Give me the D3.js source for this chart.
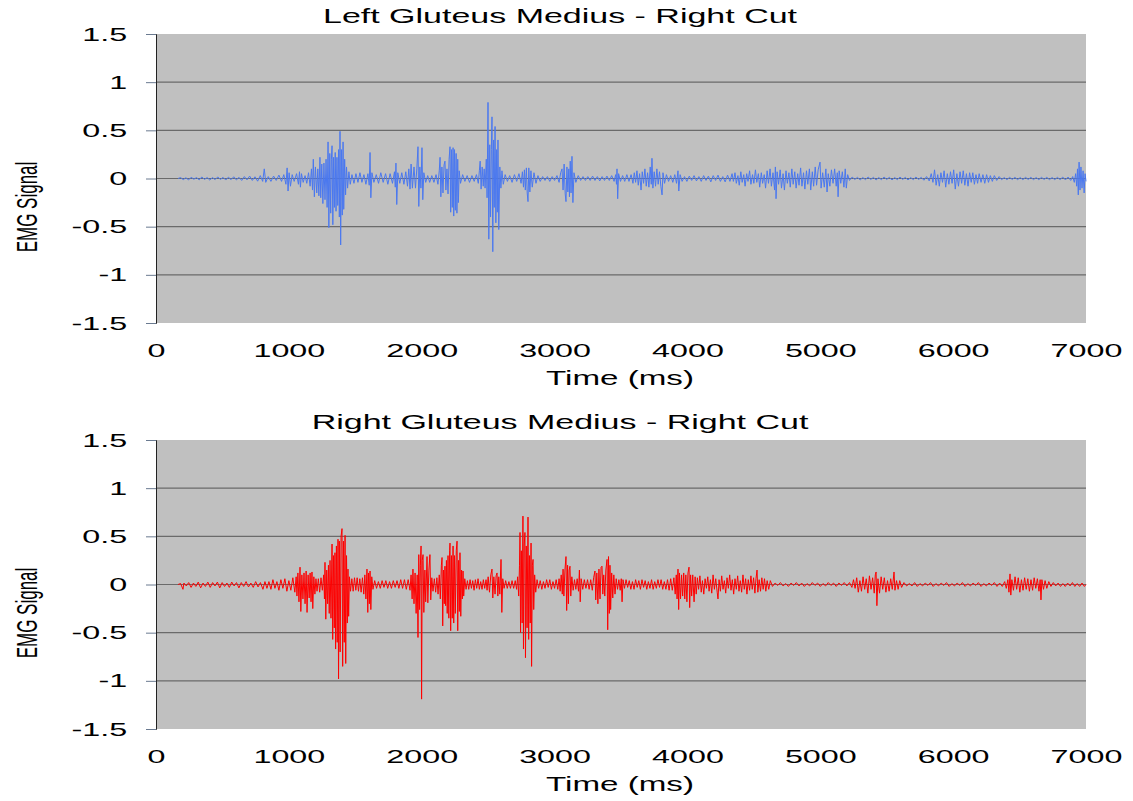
<!DOCTYPE html>
<html>
<head>
<meta charset="utf-8">
<script src="https://cdn.jsdelivr.net/npm/d3@7"></script>
<style>
body { margin: 0; background: #fff; }
text { font-family: "Liberation Sans", Arial, sans-serif; fill: #000; }
</style>
</head>
<body>
<svg id="chart" width="1133" height="801"></svg>
<script>
var titles = ["Left Gluteus Medius - Right Cut", "Right Gluteus Medius - Right Cut"];
var xLabel = "Time (ms)";
var yLabel = "EMG Signal";
var xTicks = [0, 1000, 2000, 3000, 4000, 5000, 6000, 7000];
var yTicks = [-1.5, -1, -0.5, 0, 0.5, 1, 1.5];
var colors = ["#4a78f0", "#ff0000"];

// [time ms, signal]
var leftGM = [
[166,0],[185,0.01],[205,-0.012],[225,0.008],[245,-0.015],[265,0.013],[285,-0.008],[305,0.01],[325,-0.014],[345,0.016],[365,-0.01],[385,0.01],[405,-0.016],[425,0.01],[445,-0.012],[465,0.016],[485,-0.01],[505,0.012],[525,-0.016],[545,0.014],[565,-0.012],[585,0.018],[605,-0.015],[625,0.012],[645,-0.02],[665,0.02],[685,-0.014],[705,0.025],[725,-0.02],[745,0.018],[765,-0.028],[785,0.03],[803,-0.03],[815,0.1],[826,-0.04],[845,0.02],[865,-0.03],[885,0.025],[905,-0.02],[925,0.035],[945,-0.03],[962,0.04],[978,-0.06],[987,0.11],[994,-0.13],[1002,0.06],[1012,-0.08],[1025,0.04],[1040,-0.03],[1058,0.05],[1072,-0.06],[1080,0.07],[1087,-0.09],[1095,0.05],[1108,-0.04],[1122,0.03],[1135,-0.05],[1148,0.06],[1160,-0.08],[1170,0.1],[1178,-0.12],[1184,0.2],[1192,-0.19],[1200,0.12],[1210,-0.15],[1218,0.1],[1226,-0.18],[1234,0.22],[1240,-0.2],[1248,0.15],[1256,-0.26],[1264,0.16],[1272,-0.22],[1280,0.2],[1288,-0.3],[1295,0.38],[1301,-0.51],[1308,0.26],[1315,-0.36],[1320,0.2],[1325,0.34],[1331,-0.48],[1337,0.22],[1343,-0.3],[1349,0.27],[1355,-0.34],[1362,0.22],[1368,-0.28],[1374,0.3],[1380,-0.4],[1385,0.49],[1390,-0.69],[1396,0.3],[1402,-0.38],[1408,0.38],[1413,-0.32],[1420,0.2],[1427,-0.17],[1434,0.12],[1442,-0.1],[1452,0.07],[1462,-0.06],[1475,0.04],[1490,-0.05],[1505,0.05],[1520,-0.04],[1535,0.06],[1550,-0.04],[1565,0.04],[1580,-0.06],[1595,0.05],[1605,-0.07],[1611,0.27],[1617,-0.2],[1625,0.06],[1640,-0.04],[1658,0.04],[1675,-0.05],[1692,0.06],[1710,-0.04],[1728,0.05],[1745,-0.06],[1762,0.05],[1780,-0.05],[1795,0.07],[1801,-0.09],[1806,0.16],[1812,-0.27],[1820,0.06],[1835,-0.05],[1850,0.06],[1866,-0.06],[1880,0.07],[1893,-0.08],[1903,0.1],[1912,-0.11],[1920,0.15],[1930,-0.1],[1942,0.12],[1953,-0.1],[1963,0.1],[1972,0.33],[1978,-0.29],[1986,0.12],[1994,-0.1],[2002,0.32],[2008,-0.22],[2016,0.06],[2030,-0.04],[2045,0.03],[2060,-0.04],[2076,0.03],[2092,-0.04],[2108,0.04],[2122,-0.06],[2132,0.08],[2138,0.22],[2144,-0.19],[2152,0.12],[2160,-0.15],[2168,0.14],[2175,0.18],[2182,-0.12],[2190,0.1],[2198,-0.16],[2206,0.2],[2213,0.33],[2218,-0.35],[2224,0.3],[2230,-0.3],[2236,0.32],[2241,-0.39],[2247,0.3],[2253,-0.33],[2259,0.26],[2265,-0.36],[2271,0.2],[2276,-0.25],[2282,0.08],[2292,-0.05],[2308,0.04],[2325,-0.03],[2342,0.03],[2360,-0.04],[2378,0.03],[2395,-0.03],[2412,0.04],[2426,-0.05],[2434,0.08],[2440,0.18],[2447,-0.11],[2455,0.12],[2463,-0.08],[2470,0.1],[2477,-0.1],[2486,0.2],[2492,-0.2],[2499,0.79],[2505,-0.63],[2512,0.35],[2518,-0.4],[2524,0.3],[2529,0.64],[2535,-0.76],[2541,0.4],[2546,-0.3],[2552,0.54],[2558,-0.46],[2564,0.3],[2569,-0.35],[2574,0.4],[2580,-0.53],[2588,0.12],[2596,-0.1],[2604,0.08],[2614,-0.06],[2628,0.04],[2645,-0.03],[2662,0.03],[2680,-0.04],[2698,0.04],[2715,-0.03],[2732,0.05],[2748,-0.05],[2758,0.07],[2766,-0.09],[2773,0.09],[2780,-0.12],[2788,0.11],[2794,-0.15],[2800,-0.24],[2806,0.11],[2814,-0.14],[2822,0.08],[2832,-0.09],[2845,0.06],[2860,-0.05],[2875,0.03],[2892,-0.03],[2910,0.02],[2928,-0.02],[2946,0.02],[2964,-0.03],[2982,0.02],[3000,-0.02],[3018,0.03],[3034,-0.04],[3046,0.06],[3056,0.1],[3064,-0.12],[3072,0.15],[3080,-0.16],[3086,-0.24],[3093,0.12],[3100,-0.14],[3107,0.1],[3112,-0.19],[3118,0.18],[3124,-0.15],[3131,0.23],[3138,-0.25],[3146,0.06],[3160,-0.04],[3178,0.03],[3196,-0.02],[3214,0.02],[3232,-0.02],[3250,0.02],[3268,-0.02],[3286,0.025],[3304,-0.02],[3322,0.02],[3340,-0.025],[3358,0.02],[3376,-0.02],[3394,0.025],[3412,-0.02],[3430,0.03],[3448,-0.03],[3460,0.04],[3466,-0.06],[3470,0.1],[3475,-0.21],[3482,0.05],[3496,-0.03],[3512,0.03],[3528,-0.03],[3544,0.04],[3560,-0.03],[3576,0.04],[3590,-0.05],[3600,0.06],[3610,-0.04],[3620,0.08],[3630,-0.07],[3640,0.05],[3651,-0.12],[3660,0.07],[3670,-0.05],[3680,0.1],[3690,-0.08],[3700,0.06],[3710,-0.09],[3720,0.12],[3728,-0.06],[3733,0.21],[3740,-0.1],[3750,0.07],[3760,-0.08],[3770,0.1],[3780,-0.06],[3790,0.07],[3800,-0.08],[3809,-0.17],[3816,0.06],[3828,-0.05],[3842,0.04],[3858,-0.03],[3874,0.03],[3890,-0.04],[3905,0.04],[3918,-0.05],[3929,0.08],[3935,-0.13],[3945,0.04],[3960,-0.03],[3978,0.02],[3996,-0.03],[4014,0.025],[4032,-0.02],[4050,0.03],[4068,-0.025],[4086,0.02],[4104,-0.03],[4122,0.03],[4140,-0.02],[4158,0.025],[4176,-0.035],[4194,0.03],[4212,-0.02],[4230,0.035],[4248,-0.03],[4266,0.02],[4284,-0.035],[4302,0.035],[4320,-0.03],[4336,0.05],[4346,-0.03],[4358,0.06],[4368,-0.05],[4380,0.03],[4390,-0.07],[4402,0.07],[4412,-0.04],[4424,0.04],[4434,-0.08],[4446,0.05],[4456,-0.03],[4468,0.08],[4478,-0.06],[4490,0.04],[4500,-0.05],[4512,0.09],[4522,-0.04],[4534,0.05],[4544,-0.09],[4556,0.06],[4566,-0.05],[4578,0.04],[4588,-0.1],[4600,0.08],[4610,-0.05],[4622,0.1],[4632,-0.08],[4644,0.06],[4656,-0.12],[4662,0.12],[4667,-0.21],[4675,0.07],[4686,-0.06],[4698,0.09],[4708,-0.1],[4720,0.05],[4730,-0.12],[4742,0.08],[4752,-0.05],[4764,0.06],[4774,-0.09],[4786,0.1],[4796,-0.06],[4808,0.07],[4818,-0.1],[4830,0.05],[4840,-0.07],[4852,0.11],[4862,-0.08],[4874,0.06],[4884,-0.11],[4896,0.08],[4906,-0.06],[4918,0.1],[4928,-0.12],[4940,0.07],[4950,-0.08],[4962,0.12],[4972,-0.07],[4984,0.09],[4998,0.17],[5006,-0.1],[5018,0.06],[5030,-0.09],[5042,0.1],[5051,-0.14],[5060,0.05],[5072,-0.08],[5084,0.09],[5096,-0.05],[5108,0.1],[5120,-0.08],[5128,0.06],[5134,-0.19],[5142,0.08],[5154,-0.05],[5166,0.07],[5178,-0.09],[5188,0.1],[5196,-0.1],[5206,0.04],[5220,-0.02],[5240,0.015],[5260,-0.01],[5280,0.012],[5300,-0.015],[5320,0.01],[5340,-0.012],[5360,0.015],[5380,-0.01],[5400,0.012],[5420,-0.015],[5440,0.01],[5460,-0.012],[5480,0.015],[5500,-0.01],[5520,0.012],[5540,-0.015],[5560,0.01],[5580,-0.012],[5600,0.015],[5620,-0.01],[5640,0.012],[5660,-0.015],[5680,0.01],[5700,-0.012],[5720,0.015],[5740,-0.01],[5760,0.012],[5780,-0.018],[5800,0.02],[5820,-0.025],[5835,0.05],[5848,-0.04],[5860,0.09],[5872,-0.07],[5884,0.04],[5896,-0.08],[5908,0.06],[5920,-0.04],[5932,0.08],[5944,-0.09],[5956,0.05],[5968,-0.06],[5980,0.07],[5992,-0.05],[6004,0.09],[6016,-0.11],[6028,0.05],[6040,-0.08],[6052,0.07],[6064,-0.05],[6076,0.08],[6088,-0.07],[6100,0.05],[6112,-0.08],[6124,0.06],[6136,-0.04],[6148,0.06],[6160,-0.06],[6172,0.04],[6184,-0.05],[6196,0.05],[6210,-0.04],[6224,0.04],[6238,-0.05],[6252,0.04],[6266,-0.04],[6280,0.03],[6295,-0.03],[6310,0.03],[6328,-0.02],[6346,0.02],[6365,-0.012],[6385,0.01],[6405,-0.012],[6425,0.012],[6445,-0.01],[6465,0.012],[6485,-0.012],[6505,0.01],[6525,-0.012],[6545,0.012],[6565,-0.01],[6585,0.012],[6605,-0.012],[6625,0.01],[6645,-0.012],[6665,0.012],[6685,-0.01],[6705,0.012],[6725,-0.012],[6745,0.01],[6765,-0.012],[6785,0.012],[6805,-0.012],[6825,0.015],[6845,-0.015],[6865,0.015],[6885,-0.02],[6900,0.02],[6912,-0.04],[6922,0.05],[6930,-0.08],[6936,0.1],[6942,-0.17],[6948,0.17],[6955,-0.12],[6962,0.12],[6970,-0.1],[6978,0.08],[6986,-0.15],[6993,0.05],[7000,-0.03]
];

var rightGM = [
[166,0],[185,0.01],[203,-0.05],[210,0.015],[228,-0.015],[246,0.02],[264,-0.03],[282,0.015],[300,-0.02],[318,0.025],[336,-0.035],[354,0.015],[372,-0.02],[390,0.025],[408,-0.03],[426,0.02],[444,-0.015],[462,0.025],[480,-0.035],[498,0.02],[516,-0.02],[534,0.015],[552,-0.03],[570,0.025],[588,-0.015],[606,0.02],[624,-0.035],[642,0.02],[660,-0.02],[678,0.03],[696,-0.025],[714,0.015],[732,-0.03],[750,0.03],[768,-0.025],[786,0.02],[805,-0.05],[820,0.03],[835,-0.04],[850,0.03],[865,-0.05],[880,0.05],[895,-0.04],[910,0.03],[925,-0.06],[940,0.05],[955,-0.04],[970,0.06],[985,-0.07],[1000,0.04],[1015,-0.06],[1030,0.07],[1045,-0.08],[1055,0.08],[1061,-0.12],[1068,0.12],[1076,-0.18],[1084,0.18],[1090,-0.28],[1098,0.1],[1106,-0.15],[1114,0.12],[1122,-0.2],[1130,0.14],[1137,-0.29],[1145,0.1],[1153,-0.14],[1160,0.12],[1167,-0.18],[1174,0.13],[1180,-0.25],[1188,0.08],[1196,-0.1],[1204,0.06],[1212,-0.07],[1222,0.06],[1232,-0.08],[1242,0.07],[1252,-0.06],[1262,0.1],[1268,-0.15],[1272,0.23],[1278,-0.36],[1285,0.15],[1292,-0.2],[1298,0.2],[1304,-0.3],[1310,0.25],[1317,-0.35],[1325,0.42],[1330,-0.57],[1336,0.3],[1342,-0.45],[1347,0.33],[1352,-0.67],[1358,0.4],[1364,-0.6],[1370,0.47],[1374,-0.98],[1380,0.45],[1386,-0.7],[1393,0.5],[1400,0.58],[1405,-0.85],[1411,0.45],[1417,-0.6],[1423,0.51],[1428,-0.82],[1434,0.3],[1440,-0.4],[1445,0.16],[1450,-0.33],[1456,0.08],[1464,-0.07],[1474,0.06],[1484,-0.07],[1494,0.07],[1504,-0.06],[1514,0.07],[1524,-0.07],[1534,0.06],[1544,-0.08],[1554,0.07],[1564,-0.1],[1572,0.1],[1580,-0.15],[1588,0.16],[1594,-0.29],[1600,0.12],[1606,-0.2],[1611,0.14],[1617,-0.26],[1624,0.08],[1633,-0.05],[1646,0.04],[1660,-0.04],[1674,0.03],[1688,-0.04],[1702,0.04],[1716,-0.03],[1730,0.04],[1744,-0.04],[1758,0.03],[1772,-0.04],[1786,0.04],[1800,-0.03],[1814,0.04],[1828,-0.04],[1842,0.05],[1856,-0.04],[1870,0.05],[1884,-0.05],[1898,0.05],[1912,-0.06],[1920,0.1],[1928,-0.15],[1934,0.16],[1942,-0.2],[1950,0.12],[1958,-0.3],[1966,0.1],[1972,-0.55],[1978,0.31],[1984,-0.26],[1990,0.2],[1995,0.4],[1999,-1.19],[2004,0.25],[2010,0.31],[2016,-0.29],[2024,0.15],[2030,-0.18],[2040,0.29],[2046,-0.19],[2054,0.15],[2062,0.31],[2068,-0.16],[2076,0.07],[2085,-0.07],[2095,0.06],[2105,-0.08],[2114,0.07],[2123,-0.1],[2132,0.1],[2140,-0.15],[2148,0.2],[2153,0.28],[2158,-0.43],[2164,0.15],[2170,-0.2],[2175,0.19],[2180,-0.22],[2186,0.25],[2192,-0.3],[2198,0.3],[2204,-0.35],[2210,0.35],[2213,0.43],[2218,-0.48],[2224,0.3],[2230,-0.35],[2236,0.4],[2241,-0.4],[2247,0.3],[2253,-0.3],[2260,0.35],[2266,0.45],[2271,-0.48],[2277,0.25],[2283,-0.28],[2288,0.33],[2294,-0.33],[2300,0.15],[2306,-0.15],[2311,0.14],[2316,-0.12],[2324,0.06],[2334,-0.05],[2344,0.04],[2354,-0.05],[2364,0.05],[2374,-0.04],[2384,0.04],[2394,-0.06],[2404,0.05],[2414,-0.04],[2424,0.06],[2434,-0.05],[2444,0.03],[2454,-0.05],[2464,0.05],[2474,-0.04],[2484,0.05],[2492,-0.06],[2500,0.08],[2510,-0.08],[2520,0.1],[2529,0.16],[2535,-0.14],[2543,0.08],[2552,-0.1],[2560,0.09],[2567,0.12],[2573,-0.12],[2580,0.08],[2588,-0.1],[2597,0.26],[2603,-0.29],[2610,0.06],[2620,-0.04],[2632,0.04],[2644,-0.04],[2656,0.03],[2668,-0.04],[2680,0.04],[2692,-0.04],[2704,0.04],[2714,-0.05],[2722,0.08],[2730,-0.12],[2736,0.2],[2740,0.54],[2744,-0.5],[2750,0.35],[2756,-0.4],[2762,0.71],[2766,-0.67],[2771,0.4],[2777,0.54],[2781,-0.76],[2787,0.4],[2793,-0.45],[2800,0.7],[2805,-0.57],[2811,0.3],[2817,-0.4],[2823,0.43],[2827,-0.85],[2833,0.2],[2838,0.26],[2843,-0.26],[2850,0.1],[2858,-0.08],[2868,0.05],[2880,-0.04],[2892,0.04],[2904,-0.05],[2916,0.03],[2928,-0.04],[2940,0.05],[2952,-0.03],[2964,0.05],[2976,-0.05],[2988,0.03],[3000,-0.04],[3012,0.05],[3024,-0.05],[3034,0.06],[3042,-0.07],[3050,0.1],[3058,-0.1],[3064,0.16],[3070,-0.12],[3078,0.15],[3086,0.29],[3091,-0.27],[3098,0.2],[3104,-0.2],[3110,0.15],[3116,0.19],[3122,-0.12],[3130,0.08],[3140,-0.06],[3150,0.05],[3160,-0.05],[3170,0.06],[3180,-0.07],[3187,0.15],[3193,-0.18],[3200,0.06],[3212,-0.05],[3224,0.05],[3236,-0.04],[3248,0.05],[3260,-0.05],[3272,0.05],[3284,-0.06],[3294,0.07],[3304,0.14],[3310,-0.16],[3318,0.12],[3326,-0.2],[3334,0.16],[3342,-0.15],[3350,0.18],[3357,0.19],[3363,-0.1],[3370,0.1],[3378,-0.12],[3386,0.15],[3395,0.26],[3400,-0.47],[3406,0.29],[3412,-0.3],[3417,0.2],[3422,-0.26],[3430,0.12],[3438,-0.14],[3446,0.1],[3455,-0.1],[3464,0.06],[3474,-0.05],[3484,0.05],[3494,-0.06],[3502,0.06],[3508,-0.18],[3515,0.05],[3526,-0.04],[3538,0.05],[3550,-0.03],[3562,0.04],[3574,-0.05],[3586,0.03],[3598,-0.05],[3610,0.05],[3622,-0.03],[3634,0.04],[3646,-0.05],[3658,0.05],[3670,-0.03],[3682,0.04],[3694,-0.05],[3706,0.03],[3718,-0.04],[3730,0.05],[3742,-0.05],[3754,0.03],[3766,-0.04],[3778,0.05],[3790,-0.03],[3802,0.05],[3814,-0.05],[3826,0.03],[3838,-0.05],[3850,0.05],[3862,-0.06],[3874,0.06],[3886,-0.06],[3898,0.07],[3908,-0.1],[3916,0.1],[3922,-0.15],[3929,0.16],[3934,-0.26],[3940,0.12],[3948,-0.15],[3956,0.1],[3964,-0.12],[3972,0.12],[3980,-0.15],[3988,0.1],[3996,-0.18],[4004,0.12],[4012,0.18],[4017,-0.24],[4024,0.1],[4032,-0.12],[4040,0.1],[4050,-0.18],[4058,0.08],[4066,-0.1],[4075,0.07],[4084,-0.05],[4094,0.09],[4104,-0.08],[4113,0.04],[4123,-0.1],[4133,0.06],[4143,-0.04],[4153,0.08],[4163,-0.07],[4173,0.05],[4183,-0.09],[4193,0.1],[4203,-0.05],[4213,0.06],[4224,-0.08],[4230,-0.15],[4238,0.05],[4248,-0.07],[4258,0.09],[4268,-0.05],[4278,0.04],[4288,-0.09],[4298,0.07],[4308,-0.04],[4318,0.1],[4328,-0.06],[4338,0.05],[4348,-0.1],[4358,0.06],[4368,-0.05],[4378,0.09],[4388,-0.07],[4398,0.04],[4408,-0.08],[4418,0.1],[4428,-0.05],[4438,0.06],[4448,-0.1],[4458,0.05],[4468,-0.06],[4478,0.09],[4488,-0.05],[4498,0.07],[4508,-0.09],[4516,0.06],[4524,0.15],[4530,-0.08],[4540,0.05],[4550,-0.07],[4560,0.07],[4570,-0.05],[4580,0.06],[4590,-0.07],[4600,0.04],[4612,-0.05],[4624,0.04],[4640,-0.02],[4660,0.015],[4680,-0.01],[4700,0.02],[4720,-0.015],[4740,0.01],[4760,-0.02],[4780,0.015],[4800,-0.01],[4820,0.02],[4840,-0.015],[4860,0.015],[4880,-0.02],[4900,0.01],[4920,-0.015],[4940,0.02],[4960,-0.01],[4980,0.015],[5000,-0.02],[5020,0.01],[5040,-0.015],[5060,0.02],[5080,-0.01],[5100,0.015],[5120,-0.02],[5140,0.015],[5160,-0.01],[5180,0.02],[5200,-0.015],[5220,0.02],[5238,-0.03],[5250,0.05],[5262,-0.04],[5274,0.07],[5286,-0.08],[5298,0.04],[5310,-0.07],[5322,0.08],[5334,-0.05],[5346,0.06],[5358,-0.09],[5370,0.09],[5382,-0.05],[5394,0.07],[5406,-0.09],[5414,0.1],[5420,0.13],[5426,-0.22],[5434,0.06],[5446,-0.09],[5458,0.08],[5470,-0.05],[5482,0.07],[5494,-0.08],[5506,0.04],[5518,-0.07],[5530,0.06],[5542,-0.05],[5555,0.13],[5562,-0.06],[5574,0.04],[5586,-0.05],[5598,0.04],[5612,-0.03],[5630,0.02],[5650,-0.015],[5670,0.01],[5690,-0.015],[5710,0.02],[5730,-0.02],[5750,0.01],[5770,-0.015],[5790,0.015],[5810,-0.01],[5830,0.02],[5850,-0.02],[5870,0.01],[5890,-0.015],[5910,0.015],[5930,-0.01],[5950,0.02],[5970,-0.02],[5990,0.01],[6010,-0.015],[6030,0.015],[6050,-0.01],[6070,0.02],[6090,-0.02],[6110,0.01],[6130,-0.015],[6150,0.015],[6170,-0.01],[6190,0.02],[6210,-0.02],[6230,0.01],[6250,-0.015],[6270,0.015],[6290,-0.01],[6310,0.02],[6330,-0.02],[6350,0.015],[6370,-0.02],[6388,0.03],[6400,-0.04],[6412,0.05],[6420,-0.08],[6428,0.11],[6434,-0.11],[6442,0.05],[6454,-0.06],[6466,0.08],[6478,-0.05],[6490,0.07],[6502,-0.08],[6514,0.05],[6526,-0.06],[6538,0.07],[6550,-0.05],[6562,0.06],[6574,-0.07],[6586,0.05],[6598,-0.06],[6610,0.07],[6622,-0.04],[6634,0.06],[6646,-0.07],[6655,0.05],[6661,-0.16],[6668,0.05],[6680,-0.05],[6692,0.04],[6705,-0.04],[6720,0.03],[6736,-0.02],[6754,0.02],[6772,-0.015],[6790,0.015],[6808,-0.02],[6826,0.01],[6844,-0.02],[6862,0.015],[6880,-0.015],[6898,0.02],[6916,-0.02],[6934,0.01],[6952,-0.02],[6970,0.015],[6988,-0.02],[7000,0]
];

var margin = {left: 156, top: 34};
var width = 930, height = 289, panelStep = 406;
var stretch = 1.7; // the source picture is stretched sideways

var svg = d3.select("#chart");

var x = d3.scaleLinear().domain([0, 7000]).range([0, width]);
var y = d3.scaleLinear().domain([-1.5, 1.5]).range([height, 0]);

function drawPanel(i, data) {
    var g = svg.append("g")
        .attr("transform", "translate(" + margin.left + "," + (margin.top + i * panelStep) + ")");

    g.append("rect")
        .attr("width", width)
        .attr("height", height)
        .attr("fill", "#c0c0c0");

    g.selectAll(".grid")
        .data(yTicks.filter(function(d) { return Math.abs(d) < 1.5; }))
        .enter()
        .append("line")
        .attr("class", "grid")
        .attr("x1", 0).attr("x2", width)
        .attr("y1", function(d) { return y(d); })
        .attr("y2", function(d) { return y(d); })
        .attr("stroke", "#6a6a6a")
        .attr("stroke-width", 1.2);

    var line = d3.line()
        .x(function(d) { return x(d[0]); })
        .y(function(d) { return y(d[1]); });

    g.append("path")
        .datum(data)
        .attr("d", line)
        .attr("fill", "none")
        .attr("stroke", colors[i])
        .attr("stroke-width", 1);

    var yAxis = g.append("g")
        .call(d3.axisLeft(y).tickValues(yTicks).tickSize(10).tickPadding(7)
            .tickFormat(function(d) { return d; }));
    yAxis.select(".domain").attr("stroke", "#222");
    yAxis.selectAll(".tick line").attr("stroke", "#6a7a90");
    yAxis.selectAll(".tick text")
        .attr("transform", "scale(" + stretch + ",1)")
        .attr("font-size", 19)
        .attr("font-family", null);

    var xAxis = g.append("g")
        .attr("transform", "translate(0," + height + ")")
        .call(d3.axisBottom(x).tickValues(xTicks).tickSize(0).tickFormat(function(d) { return d; }));
    xAxis.select(".domain").remove();
    xAxis.selectAll(".tick text")
        .attr("y", 34)
        .attr("dy", null)
        .attr("transform", "scale(" + stretch + ",1)")
        .attr("font-size", 19)
        .attr("font-family", null);

    g.append("text")
        .attr("transform", "translate(" + (560 - margin.left) + ",-11) scale(" + stretch + ",1)")
        .attr("text-anchor", "middle")
        .attr("font-size", 20)
        .text(titles[i]);

    g.append("text")
        .attr("transform", "translate(" + (width / 2 - 1) + "," + (height + 62) + ") scale(" + stretch + ",1)")
        .attr("text-anchor", "middle")
        .attr("font-size", 19.5)
        .text(xLabel);

    g.append("text")
        .attr("transform", "translate(" + (27 - margin.left) + ",173) scale(" + stretch + ",1) rotate(-90)")
        .attr("text-anchor", "middle")
        .attr("dy", "0.35em")
        .attr("font-size", 17)
        .text(yLabel);
}

drawPanel(0, leftGM);
drawPanel(1, rightGM);
</script>
</body>
</html>
